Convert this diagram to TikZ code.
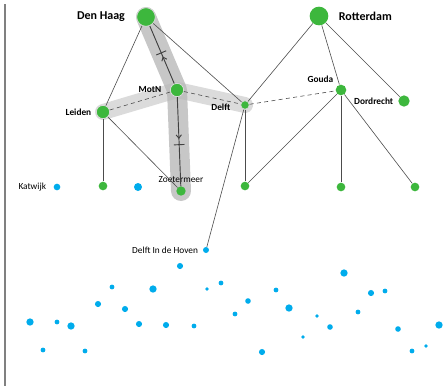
\documentclass[tikz,border=0pt]{standalone}
\usepackage{fontspec}
\setmainfont{Carlito}
\usetikzlibrary{arrows.meta}
\usetikzlibrary{decorations.markings}
\definecolor{citygreen}{RGB}{61,183,61}
\definecolor{stopblue}{RGB}{0,172,236}

\begin{document}
\begin{tikzpicture}[x=0.75pt,y=-0.75pt,
    main node/.style={circle,fill=citygreen,draw=white!70!gray,line width=0.6pt,inner sep=0pt},
    small node/.style={circle,fill=citygreen,inner sep=0pt,minimum size=6.5pt},
    blue node/.style={circle,fill=stopblue,inner sep=0pt},
    big label/.style={font=\fontsize{9}{10}\selectfont\bfseries},
    mid label/.style={font=\fontsize{7}{8}\selectfont\bfseries},
    plain label/.style={font=\fontsize{7}{8}\selectfont},
    link/.style={-,line width=0.45pt,draw=black!70},
    flow/.style={-,line width=0.7pt,draw=black!75,decoration={markings,
        mark=at position 0.47 with {\arrow{Straight Barb[length=2.5pt,width=4pt]}},
        mark=at position 0.54 with {\arrow{Bar[width=8pt,line width=0.7pt]}}},postaction={decorate}}]
   \useasboundingbox (0,0) rectangle (445,390);
   \draw[gray,line width=0.8pt] (5,4) -- (5,386);
   \begin{scope}
     % corridors
     \coordinate (dhc) at (146,17);
     \coordinate (mnc) at (177,90);
     \coordinate (zmc) at (181,191);
     \coordinate (lec) at (103,112);
     \coordinate (dfc) at (245,105);
     \draw[black!22,line width=15pt,line cap=round,line join=round] (dhc) -- (mnc) -- (zmc);
     \draw[black!28,draw opacity=0.5,line width=12pt,line cap=round,line join=round] (lec) -- (mnc) -- (dfc);

     \node[main node,minimum size=14pt,label={[big label,label distance=5pt]left:Den Haag}] (dh) at (146,17) {};
     \node[main node,minimum size=14pt,draw=none,label={[big label,label distance=4pt]right:Rotterdam}] (rd) at (319,16) {};
     \node[main node,minimum size=10pt,label={[mid label,label distance=3pt]left:MotN}] (mn) at (177,90) {};
     \node[main node,minimum size=10pt,label={[mid label,label distance=0pt]left:Leiden}] (le) at (103,112) {};
     \node[main node,minimum size=6.5pt,label={[mid label,label distance=4pt,yshift=-1.5pt]left:Delft}] (df) at (245,105) {};
     \node[main node,minimum size=8pt,draw=none,label={[mid label,label distance=-1pt]above left:Gouda}] (go) at (341,90) {};
     \node[main node,minimum size=8.5pt,draw=none,label={[mid label,label distance=0pt]left:Dordrecht}] (dd) at (404,101) {};

     \node[small node] (a) at (103,186) {};
     \node[small node,minimum size=7pt,label={[plain label,label distance=-1pt]above:Zoetermeer}] (zm) at (181,191) {};
     \node[small node] (b) at (245,186) {};
     \node[small node] (c) at (341,187) {};
     \node[small node] (d) at (415,187) {};

     \node[blue node,minimum size=5pt,label={[plain label,label distance=2pt]left:Katwijk}] (kw) at (57,187) {};
     \node[blue node,minimum size=6pt] (e) at (138,187) {};
     \node[blue node,minimum size=4.5pt,label={[plain label,label distance=0pt]left:Delft In de Hoven}] (dih) at (206,250) {};

     \foreach \x/\y/\d [count=\i] in {30/322/5.5,43/350/3.6,57/322/3.6,71/326/5.5,85/351/3.6,
        98/304/4.6,112/287/3.6,125/309/4.6,139/324/4.6,153/289/5.5,166/325/4.6,180/266/4.6,
        194/326/3.6,207/289/2.8,221/283/3.6,235/314/3.6,248/301/4.2,262/352/4.6,276/290/3.6,
        289/308/5.5,303/337/2.8,317/316/2.8,330/327/4.2,344/273/5.5,358/312/3.6,371/293/4.6,
        385/291/3.6,398/329/4.2,412/351/3.6,426/346/2.8,439/325/5.5}
        \node[blue node,minimum size=\d pt] (p\i) at (\x,\y) {};

     \path[link] (dh) edge (le);
     \path[link] (dh) edge (df);
     \path[link] (rd) edge (df);
     \path[link] (rd) edge (go);
     \path[link] (rd) edge (dd);
     \path[link] (le) edge (a);
     \path[link] (le) edge (zm);
     \path[link] (df) edge (b);
     \path[link] (df) edge (dih);
     \path[link] (go) edge (b);
     \path[link] (go) edge (c);
     \path[link] (go) edge (d);
     %\path[link] (mn) edge (df);
     \path[link,dash pattern=on 3pt off 2.5pt] (le) edge (mn);
     \path[link,dash pattern=on 3pt off 2.5pt] (mn) edge (df);
     \path[link,dash pattern=on 3pt off 2.5pt] (df) edge (go);
     \draw[flow] (mn) -- (dh);
     \draw[flow] (mn) -- (zm);
   \end{scope}
\end{tikzpicture}
\end{document}
